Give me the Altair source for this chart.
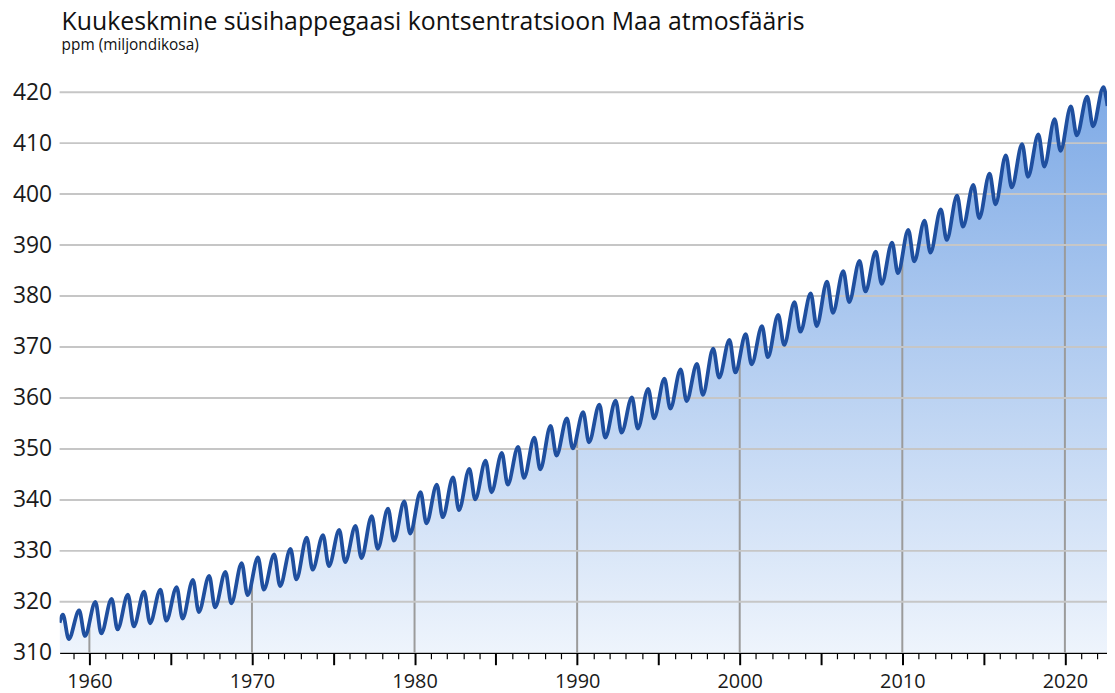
import altair as alt
import pandas as pd

TITLE = "Kuukeskmine süsihappegaasi kontsentratsioon Maa atmosfääris"
SUBTITLE = "ppm (miljondikosa)"

# Seasonal maxima (May) and minima (Sep/Oct) of the monthly mean CO2
years = list(range(1958, 2023))
may_peaks = [
    317.5, 318.3, 320.0, 320.6, 321.4, 322.0, 322.4, 322.9, 324.3, 325.1,
    325.9, 327.6, 328.7, 329.3, 330.4, 332.6, 333.1, 334.1, 334.9, 336.8,
    338.3, 339.7, 341.5, 343.0, 344.4, 346.1, 347.7, 349.2, 350.4, 352.2,
    354.5, 356.0, 357.2, 358.7, 359.5, 360.1, 361.8, 363.8, 365.6, 366.7,
    369.7, 371.4, 372.5, 374.1, 376.3, 378.8, 380.5, 382.8, 384.9, 386.9,
    388.7, 390.5, 393.0, 394.8, 397.0, 399.7, 401.8, 404.0, 407.6, 409.8,
    411.7, 414.7, 417.2, 419.1, 421.0,
]
autumn_troughs = [
    312.7, 313.3, 313.8, 314.6, 315.2, 315.8, 316.3, 316.7, 318.0, 318.9,
    319.7, 321.3, 322.4, 323.1, 324.4, 326.3, 327.0, 327.8, 328.6, 330.4,
    332.0, 333.4, 335.4, 336.6, 338.0, 340.1, 341.5, 343.0, 344.3, 346.0,
    348.7, 350.1, 351.3, 352.2, 353.2, 354.0, 356.0, 357.9, 359.4, 360.6,
    364.0, 365.0, 366.6, 368.0, 370.4, 373.0, 374.1, 376.7, 378.8, 380.9,
    382.4, 384.5, 386.8, 388.5, 391.0, 393.6, 395.3, 398.0, 401.3, 403.4,
    405.4, 408.5, 411.5, 413.3,
]
PEAK_FRAC = 0.37     # mid-May as fraction of year
TROUGH_FRAC = 0.73   # late September
first_time, first_value = 1958.17, 315.9
tail_times = [2022.54, 2022.62]
tail_values = [418.9, 417.3]

y_ticks = list(range(310, 421, 10))
grid_values = list(range(320, 421, 10))
decades = list(range(1960, 2021, 10))
tick_years = list(range(1958, 2023))

X_DOMAIN = [1958.17, 2022.59]
Y_DOMAIN = [310, 422]

rows = [{"t": first_time, "v": first_value}]
for i, yr in enumerate(years):
    rows.append({"t": yr + PEAK_FRAC, "v": may_peaks[i]})
    if i < len(autumn_troughs):
        rows.append({"t": yr + TROUGH_FRAC, "v": autumn_troughs[i]})
for t, v in zip(tail_times, tail_values):
    rows.append({"t": t, "v": v})
df = pd.DataFrame(rows)

FONT = "Open Sans"
xs = alt.Scale(domain=X_DOMAIN, nice=False, zero=False)
ys = alt.Scale(domain=Y_DOMAIN, nice=False, zero=False)

x_axis = alt.Axis(
    values=tick_years, title=None, grid=False,
    domainColor="black", domainWidth=1.5,
    tickColor="black",
    tickSize={"condition": {"test": "datum.value % 5 === 0", "value": 12}, "value": 6},
    tickWidth={"condition": {"test": "datum.value % 5 === 0", "value": 2}, "value": 1.2},
    labelExpr="datum.value % 10 === 0 ? format(datum.value, 'd') : ''",
    labelFont=FONT, labelFontSize=20, labelColor="#1a1a1a",
    labelPadding=7, labelOverlap=False, labelFlush=False, labelBound=False,
)
y_axis = alt.Axis(
    values=y_ticks, title=None, grid=False, domain=False, ticks=False,
    labelFont=FONT, labelFontSize=23, labelColor="#1a1a1a", labelPadding=8,
    format="d",
)

gradient = alt.Gradient(
    gradient="linear",
    stops=[alt.GradientStop(color="#eef4fc", offset=0),
           alt.GradientStop(color="#7eaae6", offset=1)],
    x1=1, x2=1, y1=1, y2=0,
)

X = alt.X("t:Q", scale=xs, axis=x_axis)
Y = alt.Y("v:Q", scale=ys, axis=y_axis)

area = alt.Chart(df).mark_area(interpolate="monotone", color=gradient, clip=True).encode(
    x=X, y=Y, y2=alt.datum(Y_DOMAIN[0]),
)

decade_rules = alt.Chart(pd.DataFrame({"t": decades, "lo": [Y_DOMAIN[0]] * len(decades),
                                       "hi": [Y_DOMAIN[1]] * len(decades)})).mark_rule(
    color="#9b9b9b", strokeWidth=2
).encode(
    x=X,
    y=alt.Y("lo:Q", scale=ys, axis=y_axis),
    y2="hi:Q",
)

mask = alt.Chart(df).mark_area(interpolate="monotone", color="white", clip=True).encode(
    x=X, y=Y, y2=alt.datum(Y_DOMAIN[1]),
)

grid = alt.Chart(pd.DataFrame({"v": grid_values})).mark_rule(
    color="#c6c6c6", strokeWidth=2
).encode(y=Y)

line = alt.Chart(df).mark_line(
    interpolate="monotone", color="#1f4f9f", strokeWidth=3.8, clip=True
).encode(x=X, y=Y)

title = alt.Chart(pd.DataFrame({"s": [TITLE]})).mark_text(
    align="left", baseline="alphabetic", font=FONT, fontSize=25, color="#111111"
).encode(x=alt.value(2), y=alt.value(-52), text="s:N")

subtitle = alt.Chart(pd.DataFrame({"s": [SUBTITLE]})).mark_text(
    align="left", baseline="alphabetic", font=FONT, fontSize=15.5, color="#111111"
).encode(x=alt.value(2), y=alt.value(-32), text="s:N")

chart = alt.layer(area, decade_rules, mask, grid, line, title, subtitle).properties(
    width=1055, height=575,
    autosize=alt.AutoSizeParams(type="none"),
    padding={"left": 52, "top": 72, "right": 0, "bottom": 40},
    background="white",
).configure_view(stroke=None)

chart.save("out.html", embed_options={"renderer": "svg", "actions": False})
